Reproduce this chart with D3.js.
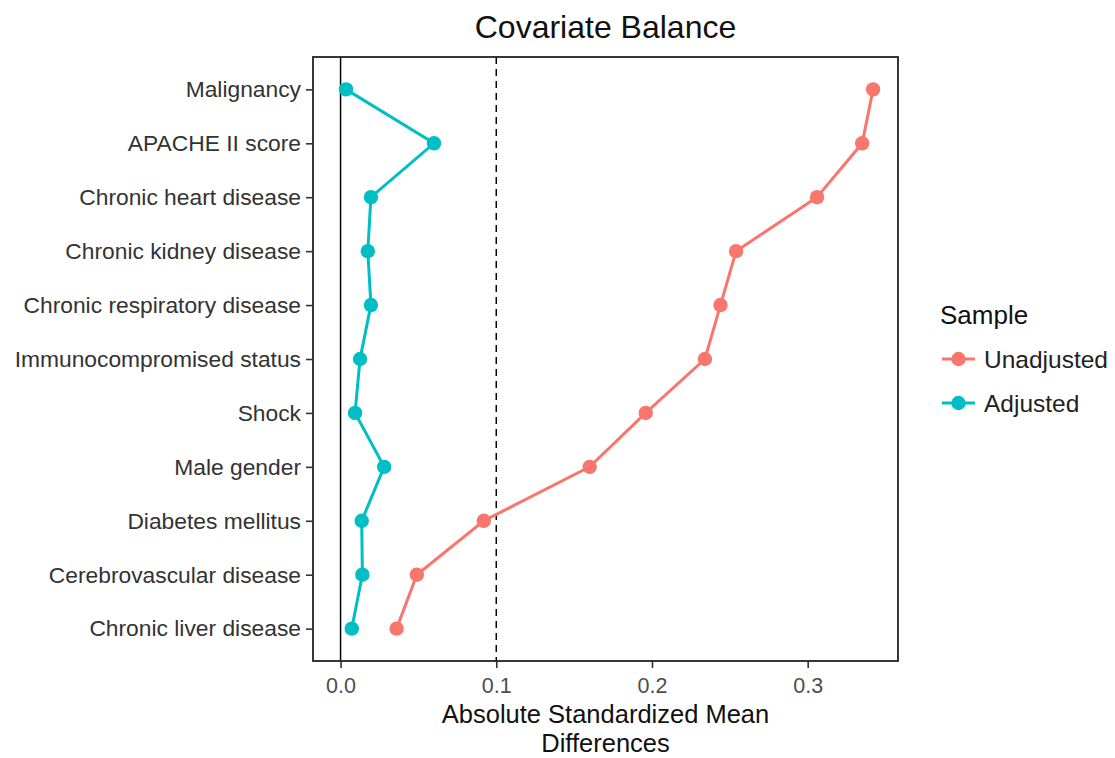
<!DOCTYPE html>
<html>
<head>
<meta charset="utf-8">
<script src="https://cdn.jsdelivr.net/npm/d3@7"></script>
<style>
  html, body { margin: 0; padding: 0; background: #fff; }
  svg text { font-family: "Liberation Sans", Arial, sans-serif; }
</style>
</head>
<body>
<svg id="chart" width="1115" height="758"></svg>
<script>
// ---- Data ----
const categories = [
  "Malignancy",
  "APACHE II score",
  "Chronic heart disease",
  "Chronic kidney disease",
  "Chronic respiratory disease",
  "Immunocompromised status",
  "Shock",
  "Male gender",
  "Diabetes mellitus",
  "Cerebrovascular disease",
  "Chronic liver disease"
];
const unadjusted = [0.342, 0.335, 0.306, 0.254, 0.244, 0.234, 0.196, 0.160, 0.092, 0.049, 0.036];
const adjusted   = [0.0035, 0.060, 0.0195, 0.0175, 0.0195, 0.0125, 0.0093, 0.028, 0.0136, 0.014, 0.0072];
const seriesNames = ["Unadjusted", "Adjusted"];
const seriesColors = ["#F8766D", "#00BFC4"];
const xTicks = [0.0, 0.1, 0.2, 0.3];
const refLines = [0, 0.1];
const xTitleLines = ["Absolute Standardized Mean", "Differences"];

// ---- Layout ----
const svg = d3.select("#chart");
const panel = { left: 313, right: 898, top: 57, bottom: 661 };

const x = d3.scaleLinear()
  .domain([-0.0177, 0.358])
  .range([panel.left, panel.right]);

const step = (panel.bottom - panel.top) / (categories.length - 1 + 1.2);
const y = d3.scalePoint()
  .domain(categories)
  .range([panel.top + 0.6 * step, panel.bottom - 0.6 * step]);

// Reference lines
svg.append("line")
  .attr("x1", x(refLines[0])).attr("x2", x(refLines[0]))
  .attr("y1", panel.top).attr("y2", panel.bottom)
  .attr("stroke", "#000").attr("stroke-width", 1.5);
svg.append("line")
  .attr("x1", x(refLines[1])).attr("x2", x(refLines[1]))
  .attr("y1", panel.top).attr("y2", panel.bottom)
  .attr("stroke", "#000").attr("stroke-width", 1.5)
  .attr("stroke-dasharray", "7,5");

// Series
const series = [unadjusted, adjusted];
const line = d3.line()
  .x(d => x(d.v))
  .y(d => y(d.c));

series.forEach((vals, i) => {
  const pts = categories.map((c, j) => ({ c, v: vals[j] }));
  svg.append("path")
    .datum(pts)
    .attr("d", line)
    .attr("fill", "none")
    .attr("stroke", seriesColors[i])
    .attr("stroke-width", 3);
  svg.selectAll(null)
    .data(pts)
    .enter().append("circle")
    .attr("cx", d => x(d.v))
    .attr("cy", d => y(d.c))
    .attr("r", 7.2)
    .attr("fill", seriesColors[i]);
});

// Panel border
svg.append("rect")
  .attr("x", panel.left).attr("y", panel.top)
  .attr("width", panel.right - panel.left)
  .attr("height", panel.bottom - panel.top)
  .attr("fill", "none")
  .attr("stroke", "#222").attr("stroke-width", 1.8);

// X axis
const xAxis = d3.axisBottom(x)
  .tickValues(xTicks)
  .tickFormat(d3.format(".1f"))
  .tickSize(7)
  .tickPadding(10);
const gx = svg.append("g")
  .attr("transform", `translate(0,${panel.bottom})`)
  .call(xAxis);
gx.select(".domain").remove();
gx.selectAll(".tick line").attr("stroke", "#333").attr("stroke-width", 1.6);
gx.selectAll(".tick text")
  .attr("fill", "#4d4d4d")
  .style("font-size", "21.5px");

// Y axis
const yAxis = d3.axisLeft(y)
  .tickSize(7)
  .tickPadding(5);
const gy = svg.append("g")
  .attr("transform", `translate(${panel.left},0)`)
  .call(yAxis);
gy.select(".domain").remove();
gy.selectAll(".tick line").attr("stroke", "#333").attr("stroke-width", 1.6);
gy.selectAll(".tick text")
  .attr("fill", "#333")
  .style("font-size", "22.8px");

// Title
const cx = (panel.left + panel.right) / 2;
svg.append("text")
  .attr("x", cx).attr("y", 38)
  .attr("text-anchor", "middle")
  .style("font-size", "32px")
  .attr("fill", "#111")
  .text("Covariate Balance");

// X axis title (two lines)
xTitleLines.forEach((t, i) => {
  svg.append("text")
    .attr("x", cx).attr("y", 723 + i * 29)
    .attr("text-anchor", "middle")
    .style("font-size", "25.5px")
    .attr("fill", "#111")
    .text(t);
});

// Legend
const lg = svg.append("g");
lg.append("text")
  .attr("x", 940).attr("y", 324)
  .style("font-size", "26px")
  .attr("fill", "#111")
  .text("Sample");
seriesNames.forEach((name, i) => {
  const yy = 359 + i * 44;
  lg.append("line")
    .attr("x1", 942).attr("x2", 975)
    .attr("y1", yy).attr("y2", yy)
    .attr("stroke", seriesColors[i]).attr("stroke-width", 3);
  lg.append("circle")
    .attr("cx", 958.5).attr("cy", yy).attr("r", 7.2)
    .attr("fill", seriesColors[i]);
  lg.append("text")
    .attr("x", 984).attr("y", yy + 8.5)
    .style("font-size", "24.5px")
    .attr("fill", "#222")
    .text(name);
});
</script>
</body>
</html>
